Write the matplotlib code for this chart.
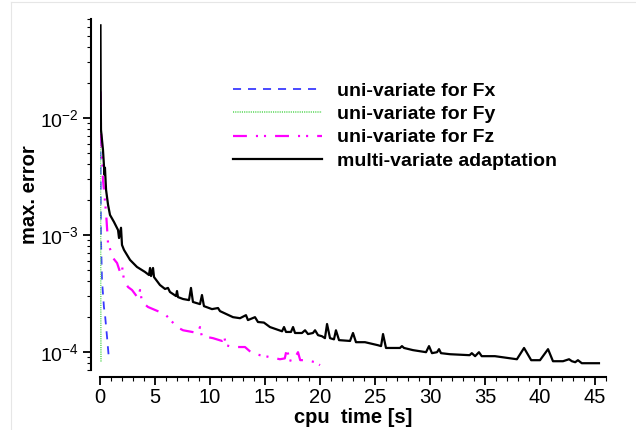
import matplotlib
matplotlib.use('Agg')
import matplotlib.pyplot as plt
import numpy as np
from matplotlib.ticker import LogLocator, FuncFormatter, MultipleLocator
from matplotlib.lines import Line2D

plt.rcParams['font.family'] = ['Liberation Sans', 'DejaVu Sans']
plt.rcParams['mathtext.fontset'] = 'custom'
plt.rcParams['mathtext.rm'] = 'Liberation Sans'
plt.rcParams['lines.scale_dashes'] = False

# cpu time [s] and max. error
t_fx = [0.03, 0.05, 0.09, 0.18, 0.36, 0.45, 0.64, 0.82]
err_fx = [0.0168, 0.0053, 9.1e-4, 4.1e-4, 2.4e-4, 2.1e-4, 1.34e-4, 8.5e-5]

t_fy = [0.02, 0.04, 0.055, 0.07, 0.09]
err_fy = [0.0168, 0.002, 4.1e-4, 1.6e-4, 8.2e-5]

t_fz = [0.045, 0.09, 0.27, 0.55, 0.73, 0.91, 1.18, 1.55, 1.82, 2.0, 2.18, 2.55,
        2.91, 3.45, 3.64, 3.82, 4.36, 5.45, 6.0, 7.0, 7.55, 8.9, 9.09, 9.27,
        9.73, 10.27, 11.09, 11.27, 11.45, 12.09, 13.18, 13.82, 14.55, 15.45,
        16.36, 16.8, 17.0, 17.2, 17.55, 18.0, 18.2, 18.8, 19.55, 20.0]
err_fz = [0.0168, 0.0079, 0.00296, 0.00155, 8.5e-4, 7.6e-4, 6.35e-4, 5.75e-4,
          4.82e-4, 5.42e-4, 4.11e-4, 3.58e-4, 3.38e-4, 2.89e-4, 3.38e-4,
          2.67e-4, 2.42e-4, 2.19e-4, 2.06e-4, 1.63e-4, 1.53e-4, 1.45e-4,
          1.63e-4, 1.34e-4, 1.34e-4, 1.31e-4, 1.24e-4, 1.39e-4, 1.14e-4,
          1.10e-4, 1.10e-4, 9.75e-5, 9.37e-5, 9.02e-5, 8.65e-5, 8.8e-5,
          1.08e-4, 8.49e-5, 8.32e-5, 9.94e-5, 8.5e-5, 8.5e-5, 8.16e-5, 7.7e-5]

t_multi = [0.045, 0.064, 0.09, 0.27, 0.41, 0.45, 0.55, 0.73, 0.91, 1.27, 1.64,
           1.73, 1.91, 2.0, 2.18, 2.73, 3.36, 4.09, 4.45, 4.55, 4.64, 4.82,
           4.91, 5.45, 5.91, 6.18, 6.36, 6.91, 7.0, 7.09, 7.55, 8.09, 8.27,
           8.45, 9.09, 9.27, 9.45, 10.18, 10.73, 10.91, 12.09, 12.73, 13.27,
           13.45, 14.09, 14.36, 14.9, 15.45, 16.55, 16.73, 16.91, 17.36, 17.55,
           17.73, 18.36, 18.64, 18.91, 19.36, 19.55, 19.82, 20.18, 20.45, 20.64,
           20.91, 21.27, 21.45, 21.73, 22.73, 23.0, 23.27, 24.09, 25.27, 25.55,
           25.73, 26.0, 26.18, 27.27, 27.45, 27.64, 28.45, 29.64, 29.91, 30.18,
           30.64, 30.82, 31.0, 31.82, 33.6, 33.8, 34.1, 34.45, 34.7, 35.9,
           37.9, 38.55, 39.2, 40.0, 40.73, 41.18, 42.09, 42.64, 42.9, 43.2,
           43.45, 43.8, 45.36]
err_multi = [0.0618, 0.0168, 0.0079, 0.00534, 0.00327, 0.00375, 0.00243,
             0.00181, 0.00148, 0.00129, 0.00110, 9.4e-4, 0.00115, 8.2e-4,
             7.44e-4, 6.11e-4, 5.32e-4, 4.82e-4, 4.54e-4, 5.21e-4, 4.45e-4,
             5.21e-4, 4.36e-4, 3.73e-4, 3.45e-4, 3.52e-4, 3.25e-4, 3.0e-4,
             3.31e-4, 2.94e-4, 2.83e-4, 2.77e-4, 3.52e-4, 2.67e-4, 2.56e-4,
             3.06e-4, 2.46e-4, 2.32e-4, 2.37e-4, 2.23e-4, 1.98e-4, 1.94e-4,
             2.06e-4, 1.87e-4, 1.98e-4, 1.80e-4, 1.78e-4, 1.63e-4, 1.50e-4,
             1.63e-4, 1.48e-4, 1.48e-4, 1.63e-4, 1.45e-4, 1.45e-4, 1.53e-4,
             1.42e-4, 1.45e-4, 1.53e-4, 1.39e-4, 1.36e-4, 1.31e-4, 1.73e-4,
             1.31e-4, 1.28e-4, 1.53e-4, 1.26e-4, 1.24e-4, 1.45e-4, 1.21e-4,
             1.21e-4, 1.14e-4, 1.12e-4, 1.42e-4, 1.08e-4, 1.08e-4, 1.08e-4,
             1.12e-4, 1.08e-4, 1.035e-4, 9.94e-5, 1.12e-4, 9.75e-5, 9.94e-5,
             1.055e-4, 9.75e-5, 9.55e-5, 9.37e-5, 9.75e-5, 9.19e-5, 9.94e-5,
             9.19e-5, 9.19e-5, 8.65e-5, 1.08e-4, 8.49e-5, 8.49e-5, 1.055e-4,
             8.32e-5, 8.32e-5, 8.65e-5, 8.32e-5, 8.16e-5, 8.49e-5, 8.0e-5, 8.0e-5]

labels = ['uni-variate for Fx', 'uni-variate for Fy', 'uni-variate for Fz',
          'multi-variate adaptation']

fig = plt.figure(figsize=(6.36, 4.30), dpi=100)
ax = fig.add_axes([100/636, 1-370/430, 506/636, 351/430])

ax.plot(t_fx, err_fx, color='#3a3aff', lw=1.3, dashes=(5.8, 5.0), label=labels[0])
ax.plot(t_fy, err_fy, color='#6fdc6f', lw=1.3, dashes=(0.8, 0.8), label=labels[1])
ax.plot(t_fz, err_fz, color='#ff00ff', lw=1.6,
        dashes=(10, 6.5, 1.5, 4.3, 1.5, 6.5), label=labels[2])
ax.plot(t_multi, err_multi, color='black', lw=1.6, label=labels[3])

ax.set_yscale('log')
ax.set_xlim(0, 46)
ax.set_ylim(7.0e-5, 7.0e-2)

for s in ['top', 'right']:
    ax.spines[s].set_visible(False)
ax.spines['left'].set_position(('outward', 6.5))
ax.spines['bottom'].set_position(('outward', 5))
ax.spines['bottom'].set_bounds(0, 46)
for s in ['left', 'bottom']:
    ax.spines[s].set_linewidth(1.5)

ax.xaxis.set_major_locator(MultipleLocator(5))
ax.xaxis.set_minor_locator(MultipleLocator(1))
ax.yaxis.set_major_locator(LogLocator(base=10))
ax.yaxis.set_minor_locator(LogLocator(base=10, subs=np.arange(2, 10)))
ax.yaxis.set_major_formatter(FuncFormatter(
    lambda v, p: r'$\mathregular{10^{%d}}$' % int(round(np.log10(v)))))
ax.yaxis.set_minor_formatter(FuncFormatter(lambda v, p: ''))
ax.tick_params(which='major', direction='out', length=6, width=1.3)
ax.tick_params(which='minor', direction='out', length=3, width=0.8)
ax.tick_params(axis='x', labelsize=14.5, pad=2)
ax.tick_params(axis='y', labelsize=14, pad=3)

ax.set_xlabel('cpu  time [s]', fontsize=14.5, fontweight='bold', labelpad=0)
ax.set_ylabel('max. error', fontsize=14.5, fontweight='bold', labelpad=0)
ax.yaxis.set_label_coords(-0.12, 0.5)
ax.xaxis.set_label_coords(0.5, -0.108)

ax.legend(loc='upper left', bbox_to_anchor=(233/636, 1-82/430),
          bbox_transform=fig.transFigure, frameon=False, borderpad=0,
          borderaxespad=0, handlelength=4.6, handletextpad=0.75,
          labelspacing=0.3, prop={'size': 14, 'weight': 'bold'})

# faint page border seen in the reference
fig.add_artist(Line2D([11/636, 11/636], [0, 1-2/430], color='#e6e6e6', lw=0.8))
fig.add_artist(Line2D([11/636, 1], [1-2/430, 1-2/430], color='#e6e6e6', lw=0.8))

fig.savefig('out.png', dpi=100)
